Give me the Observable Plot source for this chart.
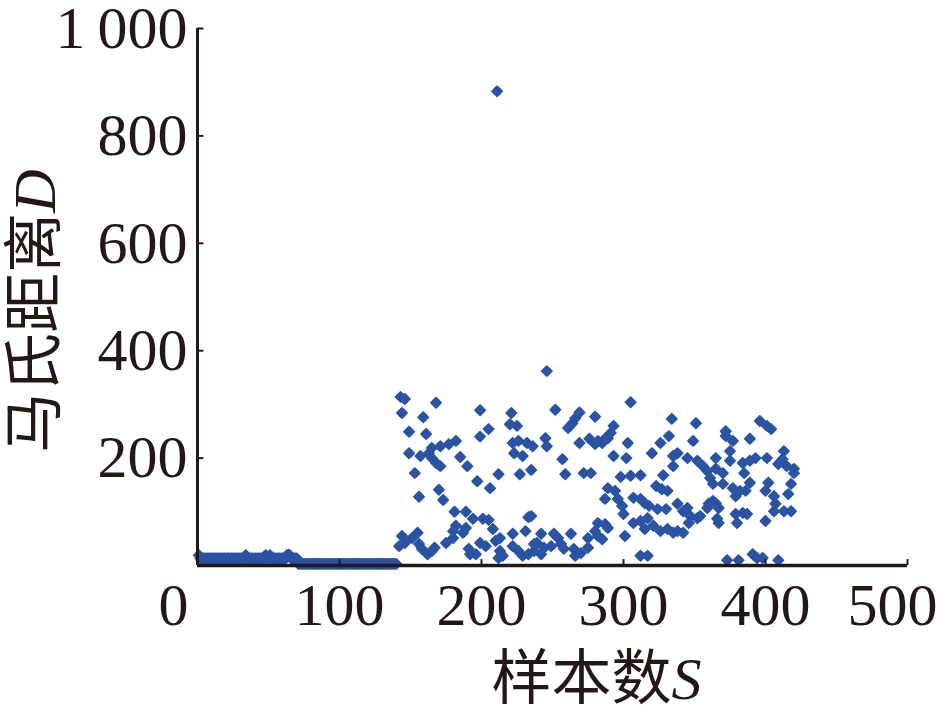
<!DOCTYPE html>
<html>
<head>
<meta charset="utf-8">
<script src="https://cdn.jsdelivr.net/npm/d3@7"></script>
<script src="https://cdn.jsdelivr.net/npm/@observablehq/plot@0.6"></script>
<style>
  html, body { margin: 0; padding: 0; background: #ffffff; }
</style>
</head>
<body>
<div id="chart"></div>
<script>
// ---- Data ----
// Samples 1..140: near-zero distances (two flat runs)
const lowD = [
  19,13,13,13,13,13,13,13,13,13, 13,13,13,13,13,13,13,13,13,13,
  13,13,13,13,13,13,13,13,13,13, 13,13,13,19,13,13,13,13,13,13,
  13,13,13,13,13,13,13,19,13,13, 19,13,13,13,13,13,13,13,13,13,
  13,13,19,20,19,13,13,13,13,13,
  3,3,3,3,3,3,3,3,3,3, 3,3,3,3,3,3,3,3,3,3,
  3,3,3,3,3,3,3,3,3,3, 3,3,3,3,3,3,3,3,3,3,
  3,3,3,3,3,3,3,3,3,3, 3,3,3,3,3,3,3,3,3,3,
  3,3,3,3,3,3,3,3,3,3
];
// Samples 141..420: scattered distances (sample number, distance)
const scatterS = [
  143,146,168,199,144,159,221,220,225,149,161,205,199,182,177,171,165,163,165,168,
  171,149,157,185,190,222,226,232,236,223,229,153,212,227,235,246,211,197,206,170,
  173,156,181,189,194,201,205,233,182,180,187,189,208,222,231,155,151,144,142,146,
  156,158,162,165,167,175,180,191,196,192,199,203,210,213,213,215,212,222,226,229,
  233,237,252,269,280,305,266,264,261,293,291,289,245,246,269,276,282,285,287,280,
  303,293,302,257,320,326,332,334,335,338,335,259,272,277,298,305,312,328,351,349,
  289,294,287,296,299,300,307,312,315,318,323,327,331,324,330,338,307,312,317,315,
  321,326,331,335,338,282,287,289,280,282,285,301,235,242,251,254,263,275,275,239,
  244,249,256,258,265,270,266,237,242,312,317,345,352,356,359,361,363,342,347,352,
  359,363,342,396,401,404,372,372,377,389,375,365,375,384,389,393,401,413,412,409,
  415,420,365,370,385,370,389,386,382,379,377,402,400,406,407,406,418,416,420,413,
  418,345,346,354,360,365,367,366,367,379,384,387,380,400,373,381,391,394,398,409
];
const scatterD = [
  314,310,303,289,284,276,284,263,260,249,245,254,240,232,226,222,219,209,200,191,
  185,209,204,202,185,228,232,228,222,209,204,172,170,170,178,362,883,157,144,141,
  122,128,100,100,87,87,85,90,74,64,61,70,68,59,64,61,51,55,36,42,
  40,31,21,27,33,42,51,31,21,21,42,36,46,51,27,18,14,36,27,18,
  21,40,290,285,277,304,274,265,256,260,247,237,237,222,228,236,232,228,236,226,
  228,204,200,198,209,228,241,273,204,209,185,170,172,172,165,167,168,168,265,232,
  144,139,124,124,111,96,126,124,116,111,148,142,139,105,105,115,79,83,88,68,
  74,64,68,61,64,79,77,70,64,55,49,55,92,59,59,51,59,51,33,42,
  33,36,40,31,31,23,18,27,21,18,18,200,195,185,176,163,152,101,92,88,
  107,120,61,269,260,254,250,241,232,236,213,200,195,191,195,200,200,213,198,189,
  185,180,180,172,172,152,154,139,139,129,144,154,139,129,115,101,152,133,172,101,
  101,107,79,92,115,116,107,87,79,96,98,96,79,83,10,10,21,14,14,10
];
const xTicks = [100, 200, 300, 400, 500];
const yTicks = [200, 400, 600, 800, 1000];
const yTickLabels = ["200", "400", "600", "800", "1\u2009000"];
const xTitle = "样本数";
const xTitleVar = "S";
const yTitle = "马氏距离";
const yTitleVar = "D";

// ---- Build table ----
const points = [];
lowD.forEach((d, i) => points.push({s: i + 1, d}));
scatterS.forEach((s, i) => points.push({s, d: scatterD[i]}));

const ink = "#231815";
const blue = "#2a53a4";

// four-pointed star marker
const star4 = {
  draw(context, size) {
    const a = Math.sqrt(size / Math.PI);
    const b = a * 0.52;
    context.moveTo(0, -a);
    context.lineTo(b, -b);
    context.lineTo(a, 0);
    context.lineTo(b, b);
    context.lineTo(0, a);
    context.lineTo(-b, b);
    context.lineTo(-a, 0);
    context.lineTo(-b, -b);
    context.closePath();
  }
};

const chart = Plot.plot({
  width: 939,
  height: 713,
  marginLeft: 197,
  marginRight: 32,
  marginTop: 28,
  marginBottom: 148,
  x: {domain: [0, 500]},
  y: {domain: [0, 1000]},
  style: {
    fontFamily: "'Liberation Serif', 'Times New Roman', 'Noto Sans CJK SC', serif",
    fontSize: "60px",
    color: ink,
    background: "#ffffff",
    overflow: "visible"
  },
  marks: [
    Plot.dot(points, {x: "s", y: "d", symbol: star4, r: 6.2, fill: blue, stroke: "none"}),
    // axis lines
    Plot.ruleX([0], {y1: 0, y2: 1000, stroke: ink, strokeWidth: 3}),
    Plot.ruleY([0], {x1: 0, x2: 500, stroke: ink, strokeWidth: 3.5}),
    // inward ticks
    Plot.ruleX(xTicks, {y1: 0, y2: 11, stroke: ink, strokeWidth: 2}),
    Plot.ruleY(yTicks, {x1: 0, x2: 4.5, stroke: ink, strokeWidth: 2}),
    // tick labels
    Plot.axisY(yTicks, {
      tickSize: 0, tickPadding: 10, label: null, fill: ink,
      tickFormat: d => yTickLabels[yTicks.indexOf(d)]
    }),
    Plot.axisX([100, 200, 300, 400], {tickSize: 0, tickPadding: 17, label: null, fill: ink}),
    Plot.axisX([0], {tickSize: 0, tickPadding: 17, label: null, fill: ink, dx: -24}),
    Plot.axisX([500], {tickSize: 0, tickPadding: 17, label: null, fill: ink, dx: -15}),
    // axis titles
    Plot.text([yTitle + yTitleVar], {
      frameAnchor: "left", dx: -162, dy: 14, rotate: -90,
      textAnchor: "middle", lineAnchor: "middle", fill: ink, fontSize: 60
    }),
    Plot.text([xTitle + xTitleVar], {
      frameAnchor: "bottom", dx: 44, dy: 114,
      textAnchor: "middle", lineAnchor: "middle", fill: ink, fontSize: 60
    })
  ]
});

// italic variable letters in the axis titles
function italicize(main, v) {
  const ns = "http://www.w3.org/2000/svg";
  chart.querySelectorAll("text").forEach(t => {
    if (t.textContent !== main + v) return;
    t.textContent = "";
    const a = document.createElementNS(ns, "tspan");
    a.textContent = main;
    a.setAttribute("font-family", "'Noto Sans CJK SC', sans-serif");
    const b = document.createElementNS(ns, "tspan");
    b.textContent = v;
    b.setAttribute("font-style", "italic");
    b.setAttribute("font-family", "'Liberation Serif', serif");
    t.appendChild(a);
    t.appendChild(b);
  });
}
italicize(yTitle, yTitleVar);
italicize(xTitle, xTitleVar);

document.getElementById("chart").appendChild(chart);
</script>
</body>
</html>
